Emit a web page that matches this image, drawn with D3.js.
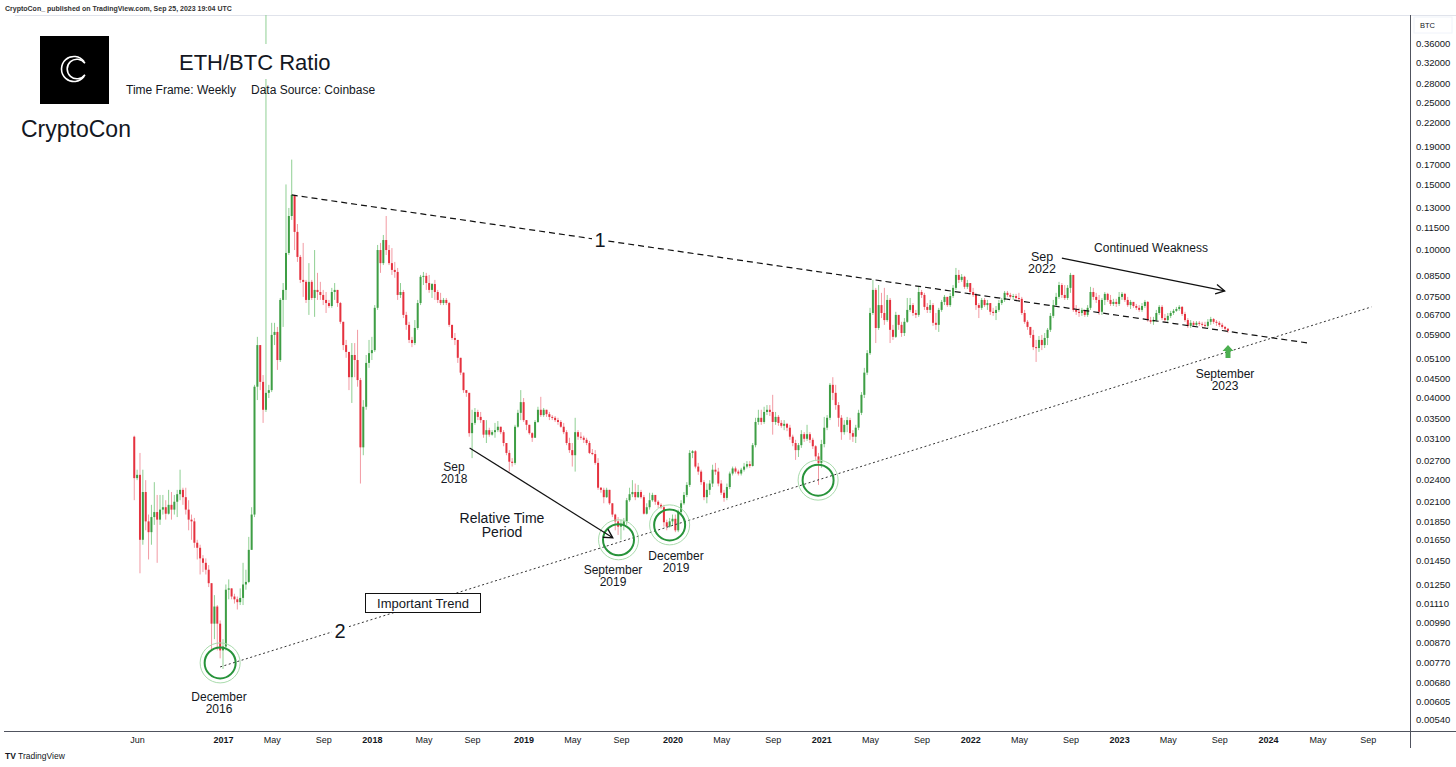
<!DOCTYPE html>
<meta charset="utf-8">
<style>

body {
  margin: 0;
  background: #fff;
}

svg {
  display: block;
  font-family: "Liberation Sans", Arial, sans-serif;
}

.axis text {
  font-size: 9px;
  fill: #131722;
}

.price text {
  font-size: 9.5px;
}

.note {
  font-size: 12px;
  fill: #131722;
  text-anchor: middle;
}

</style>
<body>
<script src="https://d3js.org/d3.v7.min.js"></script>
<script>

var width = 1456,
	height = 767,
	plotRight = 1410,
	plotTop = 15,
	plotBottom = 731;

// weekly candles, [high, low, close]; open is the previous close
var startWeek = "2016-05-30",
	firstOpen = 0.0313;

var candles2016 = [
	[0.0315,0.0211,0.0242],[0.0255,0.0239,0.0247],[0.0283,0.0134,0.0165],[0.0255,0.0160,0.0222],
	[0.0239,0.0175,0.0185],[0.0193,0.0146,0.0173],[0.0205,0.0160,0.0190],[0.0236,0.0181,0.0196],
	[0.0218,0.0143,0.0187],[0.0218,0.0181,0.0199],[0.0218,0.0193,0.0202],[0.0211,0.0187,0.0194],
	[0.0225,0.0193,0.0205],[0.0222,0.0187,0.0199],[0.0218,0.0193,0.0209],[0.0225,0.0190,0.0219],
	[0.0255,0.0211,0.0225],[0.0228,0.0205,0.0215],[0.0228,0.0193,0.0199],[0.0211,0.0175,0.0187],
	[0.0193,0.0165,0.0185],[0.0189,0.0157,0.0162],[0.0165,0.0146,0.0157],[0.0160,0.0133,0.0147],
	[0.0150,0.0135,0.0143],[0.0147,0.0133,0.0137],[0.0141,0.0123,0.0126],[0.0125,0.0083,0.0098],
	[0.0117,0.0089,0.0109],[0.0110,0.0083,0.0098],[0.0100,0.0079,0.0083]
];

var candles2017 = [
	[0.0089,0.0074,0.0085],[0.0125,0.0083,0.0121],[0.0129,0.0114,0.0122],[0.0122,0.0114,0.0116],
	[0.0118,0.0111,0.0114],[0.0116,0.0107,0.0112],[0.0122,0.0110,0.0115],[0.0143,0.0110,0.0125],
	[0.0137,0.0121,0.0127],[0.0168,0.0126,0.0155],[0.0202,0.0155,0.0193],[0.0432,0.0190,0.0427],
	[0.0582,0.0393,0.0553],[0.0536,0.0418,0.0440],[0.0459,0.0341,0.0370],[0.60,0.0365,0.0411],
	[0.0432,0.0398,0.0418],[0.0635,0.0413,0.0589],[0.0635,0.0553,0.0600],[0.0619,0.0474,0.0504],
	[0.0741,0.0498,0.0732],[0.0813,0.0619,0.0779],[0.150,0.0732,0.0980],[0.1296,0.0968,0.1233],
	[0.175,0.1203,0.1405],[0.1405,0.0998,0.1117],[0.1173,0.0927,0.0956],[0.0968,0.0813,0.0829],
	[0.1043,0.0746,0.0819],[0.0829,0.0718,0.0732],[0.0920,0.0667,0.0819],[0.0829,0.0732,0.0741],
	[0.0998,0.0659,0.0779],[0.0866,0.0732,0.0769],[0.0819,0.0732,0.0755],[0.0779,0.0709,0.0732],
	[0.0769,0.0675,0.0718],[0.0732,0.0697,0.0705],[0.0789,0.0697,0.0769],[0.0813,0.0732,0.0779],
	[0.0779,0.0701,0.0718],[0.0723,0.0631,0.0639],[0.0639,0.0536,0.0553],[0.0571,0.0511,0.0530],
	[0.0520,0.0418,0.0453],[0.0560,0.0386,0.0520],[0.0560,0.0453,0.0504],[0.0608,0.0427,0.0445],
	[0.0451,0.0234,0.0293],[0.0393,0.0279,0.0377],[0.0520,0.0370,0.0495],[0.0571,0.0480,0.0526]
];

var candles2018 = [
	[0.0582,0.0504,0.0536],[0.0709,0.0530,0.0697],[0.1030,0.0688,0.0998],[0.1043,0.0866,0.0920],
	[0.1096,0.0909,0.1062],[0.1233,0.0968,0.0998],[0.1030,0.0909,0.0920],[0.1010,0.0855,0.0882],
	[0.0927,0.0840,0.0871],[0.0893,0.0732,0.0755],[0.0813,0.0741,0.0769],[0.0779,0.0654,0.0667],
	[0.0680,0.0608,0.0627],[0.0639,0.0560,0.0571],[0.0582,0.0546,0.0560],[0.0646,0.0553,0.0615],
	[0.0732,0.0608,0.0718],[0.0855,0.0709,0.0845],[0.0871,0.0803,0.0850],[0.0866,0.0779,0.0813],
	[0.0855,0.0765,0.0779],[0.0813,0.0741,0.0808],[0.0829,0.0732,0.0769],[0.0779,0.0718,0.0732],
	[0.0765,0.0709,0.0718],[0.0741,0.0709,0.0732],[0.0741,0.0709,0.0718],[0.0723,0.0619,0.0627],
	[0.0627,0.0571,0.0578],[0.0596,0.0553,0.0571],[0.0571,0.0495,0.0511],[0.0511,0.0459,0.0466],
	[0.0466,0.0411,0.0418],[0.0418,0.0401,0.0411],[0.0411,0.0313,0.0320],[0.0370,0.0274,0.0341],
	[0.0374,0.0337,0.0365],[0.0370,0.0347,0.0354],[0.0365,0.0341,0.0347],[0.0347,0.0311,0.0317],
	[0.0347,0.0301,0.0326],[0.0331,0.0313,0.0317],[0.0326,0.0315,0.0322],[0.0341,0.0311,0.0326],
	[0.0345,0.0322,0.0333],[0.0333,0.0318,0.0322],[0.0326,0.0295,0.0301],[0.0301,0.0279,0.0283],
	[0.0288,0.0252,0.0268],[0.0274,0.0260,0.0266],[0.0337,0.0263,0.0333],[0.0370,0.0331,0.0363],
	[0.0418,0.0347,0.0388]
];

var candles2019 = [
	[0.0398,0.0343,0.0347],[0.0347,0.0326,0.0337],[0.0337,0.0317,0.0320],[0.0322,0.0303,0.0311],
	[0.0347,0.0320,0.0343],[0.0377,0.0341,0.0370],[0.0401,0.0354,0.0358],[0.0374,0.0354,0.0370],
	[0.0370,0.0354,0.0360],[0.0365,0.0347,0.0354],[0.0358,0.0347,0.0352],[0.0356,0.0343,0.0347],
	[0.0352,0.0337,0.0343],[0.0347,0.0331,0.0333],[0.0341,0.0318,0.0322],[0.0326,0.0297,0.0301],
	[0.0311,0.0283,0.0288],[0.0301,0.0260,0.0279],[0.0352,0.0252,0.0322],[0.0326,0.0307,0.0313],
	[0.0322,0.0307,0.0311],[0.0315,0.0301,0.0307],[0.0311,0.0297,0.0301],[0.0305,0.0281,0.0283],
	[0.0290,0.0279,0.0281],[0.0288,0.0263,0.0266],[0.0274,0.0225,0.0228],[0.0229,0.0221,0.0225],
	[0.0228,0.0207,0.0215],[0.0228,0.0214,0.0225],[0.0221,0.0205,0.0207],[0.0207,0.0190,0.0193],
	[0.0194,0.0175,0.0185],[0.0190,0.0170,0.0179],[0.0187,0.0165,0.0181],[0.0189,0.0175,0.0185],
	[0.0214,0.0181,0.0211],[0.0228,0.0209,0.0219],[0.0239,0.0215,0.0222],[0.0234,0.0211,0.0215],
	[0.0232,0.0214,0.0222],[0.0225,0.0213,0.0215],[0.0218,0.0193,0.0194],[0.0207,0.0193,0.0202],
	[0.0221,0.0199,0.0211],[0.0221,0.0209,0.0218],[0.0218,0.0205,0.0209],[0.0211,0.0201,0.0205],
	[0.0207,0.0200,0.0202],[0.0205,0.0179,0.0184],[0.0187,0.0175,0.0179],[0.0189,0.0178,0.0185]
];

var candles2020 = [
	[0.0193,0.0181,0.0188],[0.0193,0.0173,0.0175],[0.0199,0.0173,0.0196],[0.0211,0.0193,0.0207],
	[0.0222,0.0205,0.0218],[0.0236,0.0215,0.0232],[0.0288,0.0229,0.0283],[0.0288,0.0274,0.0286],
	[0.0288,0.0257,0.0260],[0.0266,0.0247,0.0252],[0.0255,0.0232,0.0236],[0.0239,0.0211,0.0215],
	[0.0234,0.0207,0.0225],[0.0239,0.0218,0.0234],[0.0263,0.0229,0.0255],[0.0266,0.0247,0.0252],
	[0.0258,0.0230,0.0234],[0.0239,0.0218,0.0221],[0.0225,0.0209,0.0214],[0.0234,0.0211,0.0229],
	[0.0252,0.0226,0.0249],[0.0260,0.0246,0.0257],[0.0260,0.0249,0.0252],[0.0255,0.0246,0.0249],
	[0.0258,0.0246,0.0255],[0.0266,0.0252,0.0260],[0.0269,0.0257,0.0264],[0.0269,0.0258,0.0261],
	[0.0301,0.0260,0.0297],[0.0352,0.0293,0.0343],[0.0370,0.0337,0.0352],[0.0370,0.0337,0.0343],
	[0.0377,0.0339,0.0365],[0.0381,0.0358,0.0370],[0.0381,0.0356,0.0365],[0.0406,0.0317,0.0343],
	[0.0365,0.0337,0.0354],[0.0358,0.0335,0.0341],[0.0347,0.0331,0.0335],[0.0347,0.0326,0.0339],
	[0.0341,0.0324,0.0331],[0.0337,0.0307,0.0313],[0.0317,0.0295,0.0301],[0.0307,0.0271,0.0288],
	[0.0301,0.0276,0.0297],[0.0326,0.0292,0.0318],[0.0322,0.0303,0.0309],[0.0337,0.0305,0.0318],
	[0.0322,0.0301,0.0307],[0.0311,0.0290,0.0295],[0.0297,0.0271,0.0277],[0.0283,0.0232,0.0266]
];

var candles2021 = [
	[0.0307,0.0258,0.0299],[0.0354,0.0293,0.0331],[0.0358,0.0326,0.0352],[0.0437,0.0347,0.0432],
	[0.0453,0.0393,0.0411],[0.0432,0.0370,0.0381],[0.0388,0.0333,0.0352],[0.0358,0.0307,0.0322],
	[0.0347,0.0317,0.0337],[0.0354,0.0322,0.0347],[0.0352,0.0307,0.0320],[0.0326,0.0303,0.0313],
	[0.0337,0.0301,0.0331],[0.0370,0.0326,0.0363],[0.0413,0.0358,0.0406],[0.0480,0.0398,0.0466],
	[0.0536,0.0459,0.0526],[0.0697,0.0520,0.0675],[0.0829,0.0667,0.0779],[0.0789,0.0560,0.0615],
	[0.0803,0.0608,0.0709],[0.0765,0.0654,0.0675],[0.0789,0.0627,0.0646],[0.0755,0.0639,0.0732],
	[0.0741,0.0560,0.0608],[0.0627,0.0571,0.0582],[0.0680,0.0578,0.0667],[0.0667,0.0608,0.0627],
	[0.0639,0.0582,0.0596],[0.0654,0.0585,0.0639],[0.0741,0.0635,0.0688],[0.0741,0.0680,0.0709],
	[0.0718,0.0663,0.0675],[0.0688,0.0654,0.0667],[0.0794,0.0659,0.0769],[0.0779,0.0741,0.0755],
	[0.0765,0.0688,0.0701],[0.0718,0.0675,0.0688],[0.0732,0.0675,0.0709],[0.0718,0.0623,0.0635],
	[0.0675,0.0608,0.0627],[0.0697,0.0600,0.0688],[0.0732,0.0680,0.0723],[0.0755,0.0709,0.0746],
	[0.0746,0.0701,0.0709],[0.0765,0.0701,0.0750],[0.0803,0.0741,0.0789],[0.0893,0.0779,0.0855],
	[0.0882,0.0813,0.0829],[0.0860,0.0819,0.0845],[0.0850,0.0784,0.0794],[0.0829,0.0784,0.0813]
];

var candles2022 = [
	[0.0813,0.0760,0.0769],[0.0789,0.0746,0.0755],[0.0765,0.0688,0.0709],[0.0718,0.0654,0.0697],
	[0.0741,0.0688,0.0732],[0.0741,0.0701,0.0709],[0.0732,0.0688,0.0718],[0.0718,0.0667,0.0680],
	[0.0697,0.0663,0.0675],[0.0705,0.0646,0.0688],[0.0732,0.0680,0.0718],[0.0741,0.0709,0.0732],
	[0.0774,0.0723,0.0765],[0.0774,0.0746,0.0755],[0.0765,0.0737,0.0746],[0.0760,0.0732,0.0750],
	[0.0760,0.0732,0.0741],[0.0765,0.0727,0.0737],[0.0746,0.0667,0.0675],[0.0688,0.0631,0.0639],
	[0.0646,0.0608,0.0619],[0.0619,0.0578,0.0589],[0.0608,0.0536,0.0546],[0.0571,0.0498,0.0543],
	[0.0585,0.0530,0.0571],[0.0589,0.0536,0.0553],[0.0596,0.0543,0.0578],[0.0615,0.0553,0.0608],
	[0.0675,0.0600,0.0663],[0.0732,0.0654,0.0709],[0.0765,0.0701,0.0746],[0.0819,0.0737,0.0803],
	[0.0813,0.0741,0.0755],[0.0803,0.0732,0.0741],[0.0803,0.0732,0.0789],[0.0866,0.0765,0.0855],
	[0.0845,0.0680,0.0688],[0.0709,0.0667,0.0680],[0.0697,0.0659,0.0675],[0.0697,0.0663,0.0688],
	[0.0688,0.0659,0.0667],[0.0709,0.0659,0.0697],[0.0794,0.0688,0.0769],[0.0789,0.0732,0.0746],
	[0.0765,0.0718,0.0732],[0.0755,0.0667,0.0680],[0.0741,0.0667,0.0732],[0.0769,0.0709,0.0760],
	[0.0765,0.0723,0.0732],[0.0755,0.0705,0.0714],[0.0737,0.0705,0.0723],[0.0737,0.0701,0.0714]
];

var candles2023 = [
	[0.0769,0.0705,0.0746],[0.0769,0.0732,0.0760],[0.0765,0.0723,0.0732],[0.0746,0.0701,0.0709],
	[0.0732,0.0692,0.0723],[0.0723,0.0697,0.0705],[0.0714,0.0688,0.0697],[0.0709,0.0680,0.0688],
	[0.0718,0.0680,0.0705],[0.0732,0.0697,0.0723],[0.0727,0.0639,0.0646],[0.0659,0.0631,0.0639],
	[0.0659,0.0627,0.0646],[0.0688,0.0639,0.0675],[0.0709,0.0667,0.0701],[0.0709,0.0646,0.0654],
	[0.0671,0.0639,0.0646],[0.0675,0.0639,0.0663],[0.0684,0.0654,0.0675],[0.0692,0.0667,0.0684],
	[0.0701,0.0680,0.0692],[0.0709,0.0684,0.0701],[0.0705,0.0663,0.0671],[0.0680,0.0639,0.0646],
	[0.0654,0.0615,0.0623],[0.0646,0.0615,0.0635],[0.0642,0.0619,0.0627],[0.0642,0.0623,0.0635],
	[0.0642,0.0623,0.0631],[0.0639,0.0619,0.0627],[0.0639,0.0615,0.0623],[0.0650,0.0615,0.0639],
	[0.0659,0.0627,0.0650],[0.0654,0.0631,0.0639],[0.0646,0.0623,0.0635],[0.0642,0.0619,0.0627],
	[0.0635,0.0612,0.0619],[0.0623,0.0604,0.0612],[0.0615,0.0596,0.0604]
];

var priceTicks = [0.36, 0.32, 0.28, 0.25, 0.22, 0.19, 0.17, 0.15, 0.13, 0.115, 0.10, 0.085,
	0.075, 0.067, 0.059, 0.051, 0.045, 0.040, 0.035, 0.031, 0.027, 0.024, 0.021, 0.0185,
	0.0165, 0.0145, 0.0125, 0.0111, 0.0099, 0.0087, 0.0077, 0.0068, 0.00605, 0.0054];

var timeTicks = [
	["2016-06-06","Jun"],["2017-01-02","2017"],["2017-05-01","May"],["2017-09-04","Sep"],
	["2018-01-01","2018"],["2018-05-07","May"],["2018-09-03","Sep"],["2019-01-07","2019"],
	["2019-05-06","May"],["2019-09-02","Sep"],["2020-01-06","2020"],["2020-05-04","May"],
	["2020-09-07","Sep"],["2021-01-04","2021"],["2021-05-03","May"],["2021-09-06","Sep"],
	["2022-01-03","2022"],["2022-05-02","May"],["2022-09-05","Sep"],["2023-01-02","2023"],
	["2023-05-01","May"],["2023-09-04","Sep"],["2024-01-01","2024"],["2024-05-01","May"],
	["2024-09-01","Sep"]
];

// drawings on the chart, as [date, price]
var trend1 = [["2017-06-19", 0.1405], ["2024-04-13", 0.0559]],
	trend2 = [["2016-12-26", 0.00749], ["2024-09-10", 0.0701]],
	rings = [["2016-12-26", 0.00768], ["2019-08-27", 0.0165], ["2019-12-30", 0.0181], ["2020-12-27", 0.0239]],
	arrows = [
		[["2018-08-28", 0.0292], ["2019-08-13", 0.0167]],
		[["2022-08-15", 0.0949], ["2023-09-17", 0.0774]]
	];

var parse = d3.utcParse("%Y-%m-%d");

var x = d3.scaleUtc()
	.domain([parse("2017-01-01"), parse("2024-01-01")])
	.range([222.6, 1268]);

var y = d3.scaleLog()
	.domain([0.005031, 0.4297])
	.range([plotBottom, plotTop]);

var rows = [].concat(candles2016, candles2017, candles2018, candles2019,
	candles2020, candles2021, candles2022, candles2023);

var t0 = parse(startWeek),
	prev = firstOpen,
	candles = rows.map(function(d, i) {
		var o = prev, c = d[2];
		prev = c;
		return {
			date: d3.utcDay.offset(t0, 7 * i),
			o: o,
			h: Math.max(d[0], o, c),
			l: Math.min(d[1], o, c),
			c: c
		};
	});

var svg = d3.select("body").append("svg")
	.attr("width", width)
	.attr("height", height);

svg.append("rect")
	.attr("width", width)
	.attr("height", height)
	.attr("fill", "#fff");

svg.append("defs").append("clipPath")
	.attr("id", "plot")
	.append("rect")
	.attr("x", 0)
	.attr("y", plotTop)
	.attr("width", plotRight)
	.attr("height", plotBottom - plotTop);

// frame
svg.append("line")
	.attr("x1", 15).attr("x2", width)
	.attr("y1", plotTop + 0.5).attr("y2", plotTop + 0.5)
	.attr("stroke", "#e0e3eb");

svg.append("line")
	.attr("x1", 4).attr("x2", width)
	.attr("y1", plotBottom + 0.5).attr("y2", plotBottom + 0.5)
	.attr("stroke", "#50535e");

svg.append("line")
	.attr("x1", plotRight + 0.5).attr("x2", plotRight + 0.5)
	.attr("y1", plotTop).attr("y2", 748)
	.attr("stroke", "#50535e");

// candles
var chart = svg.append("g").attr("clip-path", "url(#plot)");

chart.selectAll(".wick")
	.data(candles)
	.enter().append("line")
	.attr("class", "wick")
	.attr("x1", function(d) { return x(d.date); })
	.attr("x2", function(d) { return x(d.date); })
	.attr("y1", function(d) { return y(d.h); })
	.attr("y2", function(d) { return y(d.l); })
	.attr("stroke", function(d) { return d.c >= d.o ? "#8fcf93" : "#f29aa3"; })
	.attr("stroke-width", 1);

chart.selectAll(".body")
	.data(candles)
	.enter().append("rect")
	.attr("class", "body")
	.attr("x", function(d) { return x(d.date) - 1; })
	.attr("width", 2)
	.attr("y", function(d) { return y(Math.max(d.o, d.c)); })
	.attr("height", function(d) { return Math.max(1, Math.abs(y(d.o) - y(d.c))); })
	.attr("fill", function(d) { return d.c >= d.o ? "#3e9e45" : "#e5323f"; });

// axes
var priceAxis = svg.append("g")
	.attr("class", "axis price")
	.attr("transform", "translate(" + plotRight + ",0)")
	.call(d3.axisRight(y)
		.tickValues(priceTicks)
		.tickSize(0)
		.tickPadding(6)
		.tickFormat(d3.format(".5f")));
priceAxis.select(".domain").remove();

var timeAxis = svg.append("g")
	.attr("class", "axis")
	.attr("transform", "translate(0," + plotBottom + ")")
	.call(d3.axisBottom(x)
		.tickValues(timeTicks.map(function(d) { return parse(d[0]); }))
		.tickSize(0)
		.tickPadding(6)
		.tickFormat(function(d, i) { return timeTicks[i][1]; }));
timeAxis.select(".domain").remove();
timeAxis.selectAll("text")
	.style("font-weight", function(d, i) { return /^\d/.test(timeTicks[i][1]) ? "bold" : null; });

svg.append("rect")
	.attr("x", 1414).attr("y", 17)
	.attr("width", 38).attr("height", 16)
	.attr("fill", "#fff")
	.attr("stroke", "#f0f3fa");
svg.append("text")
	.attr("x", 1420).attr("y", 28)
	.attr("font-size", 7.5)
	.attr("fill", "#131722")
	.text("BTC");

// trend lines
function pt(d) { return [x(parse(d[0])), y(d[1])]; }

svg.append("path")
	.attr("d", d3.line()(trend1.map(pt)))
	.attr("stroke", "#111")
	.attr("stroke-width", 1.2)
	.attr("stroke-dasharray", "6,4")
	.attr("fill", "none");

svg.append("path")
	.attr("d", d3.line()(trend2.map(pt)))
	.attr("stroke", "#333")
	.attr("stroke-width", 1)
	.attr("stroke-dasharray", "2,2.5")
	.attr("fill", "none");

// rings
var ring = svg.selectAll(".ring")
	.data(rings)
	.enter().append("g")
	.attr("transform", function(d) { return "translate(" + pt(d) + ")"; });
ring.append("circle")
	.attr("r", 20)
	.attr("fill", "none")
	.attr("stroke", "#a9dbac")
	.attr("stroke-width", 1);
ring.append("circle")
	.attr("r", 15.5)
	.attr("fill", "none")
	.attr("stroke", "#27933a")
	.attr("stroke-width", 2);

// arrows with open heads
arrows.forEach(function(a) {
	var p0 = pt(a[0]), p1 = pt(a[1]),
		ang = Math.atan2(p1[1] - p0[1], p1[0] - p0[0]),
		len = 10, spread = 0.5;
	svg.append("line")
		.attr("x1", p0[0]).attr("y1", p0[1])
		.attr("x2", p1[0]).attr("y2", p1[1])
		.attr("stroke", "#111")
		.attr("stroke-width", 1.2);
	svg.append("path")
		.attr("d", d3.line()([
			[p1[0] - len * Math.cos(ang - spread), p1[1] - len * Math.sin(ang - spread)],
			p1,
			[p1[0] - len * Math.cos(ang + spread), p1[1] - len * Math.sin(ang + spread)]
		]))
		.attr("stroke", "#111")
		.attr("stroke-width", 1.3)
		.attr("fill", "none");
});

// green marker arrow
svg.append("path")
	.attr("d", "M1228,345 L1233.5,351 L1230.5,351 L1230.5,358 L1225.5,358 L1225.5,351 L1222.5,351 Z")
	.attr("fill", "#4caf50");

// labels
function note(lines, cx, y0, size, gap) {
	var t = svg.append("text")
		.attr("class", "note")
		.style("font-size", size + "px");
	lines.forEach(function(s, i) {
		t.append("tspan")
			.attr("x", cx)
			.attr("y", y0 + i * gap)
			.text(s);
	});
}

note(["December", "2016"], 219, 701, 12, 12);
note(["Sep", "2018"], 454, 471, 12, 12);
note(["Relative Time", "Period"], 502, 523, 14, 13.5);
note(["September", "2019"], 613, 574, 12, 12);
note(["December", "2019"], 676, 560, 12, 12);
note(["Sep", "2022"], 1042, 261, 12.5, 12);
note(["Continued Weakness"], 1151, 252, 12, 12);
note(["September", "2023"], 1225, 378, 12, 12);

svg.append("rect")
	.attr("x", 365.5).attr("y", 593.5)
	.attr("width", 115).attr("height", 19)
	.attr("fill", "#fff")
	.attr("stroke", "#111");
note(["Important Trend"], 423, 608, 13, 13);

[["1", 600, 240], ["2", 340, 631]].forEach(function(d) {
	svg.append("rect")
		.attr("x", d[1] - 8).attr("y", d[2] - 11)
		.attr("width", 16).attr("height", 22)
		.attr("fill", "#fff");
	note([d[0]], d[1], d[2] + 7, 20, 20);
});

// title block
svg.append("rect")
	.attr("x", 175).attr("y", 44)
	.attr("width", 158).attr("height", 35)
	.attr("fill", "#fff");

svg.append("text")
	.attr("x", 179).attr("y", 70)
	.style("font-size", "22px")
	.attr("fill", "#131722")
	.text("ETH/BTC Ratio");

svg.append("text")
	.attr("x", 126).attr("y", 94)
	.style("font-size", "12px")
	.attr("fill", "#131722")
	.text("Time Frame: Weekly");

svg.append("text")
	.attr("x", 251).attr("y", 94)
	.style("font-size", "12px")
	.attr("fill", "#131722")
	.text("Data Source: Coinbase");

svg.append("text")
	.attr("x", 21).attr("y", 137)
	.style("font-size", "23px")
	.attr("fill", "#131722")
	.text("CryptoCon");

// logo: two nested C shapes opening to the right
svg.append("rect")
	.attr("x", 40).attr("y", 36)
	.attr("width", 69).attr("height", 68)
	.attr("fill", "#000");

[[74, 69, 12.5], [77, 69, 9.8]].forEach(function(c) {
	svg.append("path")
		.attr("transform", "translate(" + c[0] + "," + c[1] + ")")
		.attr("d", d3.arc()
			.innerRadius(c[2] - 0.8)
			.outerRadius(c[2] + 0.8)
			.startAngle(Math.PI / 2 + 0.62)
			.endAngle(Math.PI * 2.5 - 0.62)())
		.attr("fill", "#fff");
});

// header and footer
svg.append("text")
	.attr("x", 5).attr("y", 11)
	.style("font-size", "7px")
	.style("font-weight", "bold")
	.attr("fill", "#333")
	.text("CryptoCon_ published on TradingView.com, Sep 25, 2023 19:04 UTC");

svg.append("text")
	.attr("x", 5).attr("y", 759)
	.style("font-size", "8.5px")
	.style("font-weight", "bold")
	.attr("fill", "#131722")
	.text("TV");

svg.append("text")
	.attr("x", 18).attr("y", 759)
	.style("font-size", "8.5px")
	.attr("fill", "#131722")
	.text("TradingView");

</script>
</body>
